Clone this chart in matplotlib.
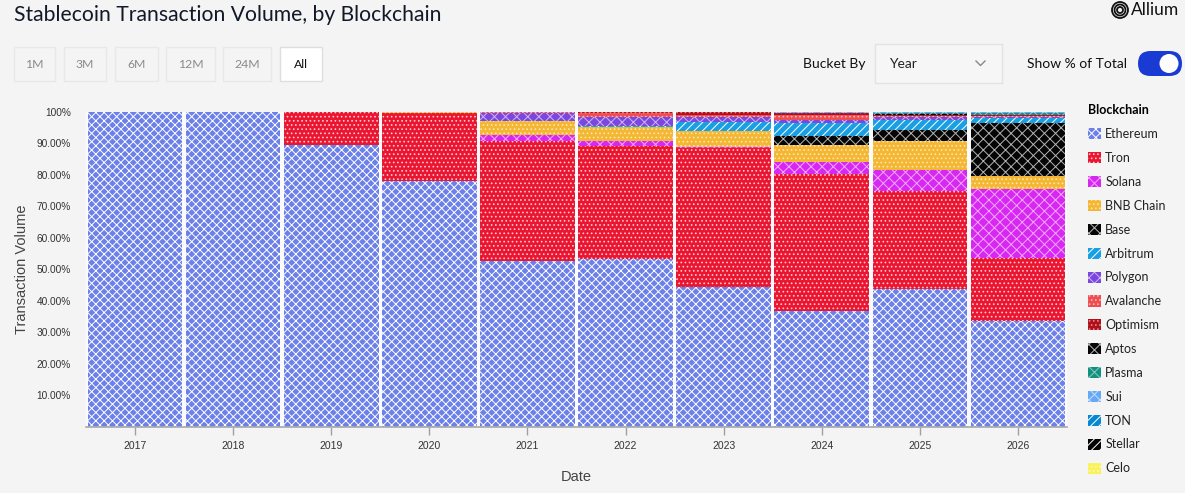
import numpy as np
import matplotlib.pyplot as plt
from matplotlib.patches import FancyBboxPatch, Circle, Rectangle
from matplotlib.lines import Line2D
from matplotlib.transforms import Affine2D
from matplotlib.ticker import FuncFormatter

#region data
years = ['2017', '2018', '2019', '2020', '2021', '2022', '2023', '2024', '2025', '2026']

ethereum = [100, 100, 89.4, 77.9, 52.5, 53.2, 44.3, 36.8, 43.6, 33.5]
tron = [0, 0, 10.6, 21.7, 38.1, 35.8, 44.0, 43.4, 31.3, 20.0]
solana = [0, 0, 0, 0, 1.9, 1.6, 0.6, 3.7, 6.7, 22.0]
bnb_chain = [0, 0, 0, 0.4, 4.4, 4.6, 4.8, 5.6, 8.9, 4.2]
base = [0, 0, 0, 0, 0, 0, 0.1, 2.6, 3.5, 16.6]
arbitrum = [0, 0, 0, 0, 0, 0.3, 2.9, 4.1, 3.2, 1.6]
polygon = [0, 0, 0, 0, 2.5, 2.9, 1.4, 1.2, 0.9, 0.4]
avalanche = [0, 0, 0, 0, 0.6, 1.0, 0.7, 1.5, 0.5, 0.3]
optimism = [0, 0, 0, 0, 0, 0.6, 1.0, 0.5, 0.3, 0.2]
aptos = [0, 0, 0, 0, 0, 0, 0, 0.1, 0.2, 0.1]
plasma = [0, 0, 0, 0, 0, 0, 0, 0, 0.5, 0.7]
sui = [0, 0, 0, 0, 0, 0, 0, 0.2, 0.1, 0.1]
ton = [0, 0, 0, 0, 0, 0, 0, 0.1, 0.1, 0.1]
stellar = [0, 0, 0, 0, 0, 0, 0.1, 0.1, 0.1, 0.1]
celo = [0, 0, 0, 0, 0, 0, 0.1, 0.1, 0.1, 0.1]

chain_names = ['Ethereum', 'Tron', 'Solana', 'BNB Chain', 'Base', 'Arbitrum', 'Polygon',
               'Avalanche', 'Optimism', 'Aptos', 'Plasma', 'Sui', 'TON', 'Stellar', 'Celo']
chain_values = [ethereum, tron, solana, bnb_chain, base, arbitrum, polygon,
                avalanche, optimism, aptos, plasma, sui, ton, stellar, celo]
#endregion

# fill colour, hatch, hatch colour
styles = [('#6b80e8', 'xxxx', '#ffffff'),
          ('#ea1530', '....', '#ffc8ce'),
          ('#d728f2', 'xxx', '#f3a8fb'),
          ('#f4b733', '....', '#fde5ad'),
          ('#050505', 'xxx', '#b4b4b4'),
          ('#1a9fe3', '////', '#ffffff'),
          ('#7a48de', 'xxx', '#cbb6f3'),
          ('#ef4d50', '....', '#f9b6b8'),
          ('#b0101c', '....', '#e48890'),
          ('#050505', 'xxx', '#b4b4b4'),
          ('#13907f', 'xxx', '#8cccc4'),
          ('#68a9f5', 'xxx', '#c4defc'),
          ('#0888d0', '////', '#ffffff'),
          ('#050505', '////', '#ffffff'),
          ('#faf25a', '....', '#fffbb4')]

bg = '#f4f4f4'
W, H = 1185, 493
plt.rcParams['hatch.linewidth'] = 0.7

fig = plt.figure(figsize=(W / 100, H / 100), dpi=100, facecolor=bg)
pix = Affine2D().scale(1 / W, -1 / H).translate(0, 1) + fig.transFigure  # pixel coords from top-left

ax = fig.add_axes([86 / W, 1 - 427 / H, (1067 - 86) / W, (427 - 111.5) / H])
ax.set_facecolor('#fbfbfb')

#region bars
vals = np.array(chain_values, dtype=float)
shares = vals / vals.sum(axis=0) * 100  # % of total
x = np.arange(len(years))
bottom = np.zeros(len(years))
handles = []
for name, share, (col, hatch, hcol) in zip(chain_names, shares, styles):
    b = ax.bar(x, share, bottom=bottom, width=0.965, color=col, hatch=hatch,
               edgecolor=hcol, linewidth=0, label=name)
    handles.append(b)
    bottom += share
#endregion

#region axes
axfont = 'Liberation Sans'
ax.set_xlim(-0.5, len(years) - 0.5)
ax.set_ylim(0, 100)
ax.set_xticks(x)
ax.set_xticklabels(years, family=axfont)
ax.set_yticks(np.arange(10, 101, 10))
ax.yaxis.set_major_formatter(FuncFormatter(lambda v, p: '100%' if v >= 100 else f'{v:.2f}%'))
for t in ax.get_yticklabels():
    t.set_fontfamily(axfont)
ax.tick_params(axis='y', length=0, pad=11, labelsize=7.3, labelcolor='#333333')
ax.tick_params(axis='x', length=6, width=1, color='#a0a0a0', pad=4, labelsize=7.5, labelcolor='#333333')
for s in ['top', 'right', 'left']:
    ax.spines[s].set_visible(False)
ax.spines['bottom'].set_color('#a8a8a8')
ax.spines['bottom'].set_linewidth(1.2)
ax.set_ylabel('Transaction Volume', fontsize=10.5, color='#444444', family=axfont)
ax.yaxis.set_label_coords(-0.058, 0.5)
ax.set_xlabel('Date', fontsize=10.5, color='#444444', labelpad=14, family=axfont)

leg = fig.legend(handles, chain_names, loc='upper left', bbox_to_anchor=(1077 / W, 1 - 93 / H),
                 frameon=False, title='Blockchain', alignment='left',
                 handlelength=1.0, handleheight=1.0, handletextpad=0.35, labelspacing=0.95,
                 prop={'family': 'Lato', 'size': 9})
leg.get_title().set_fontfamily('Lato')
leg.get_title().set_fontweight('bold')
leg.get_title().set_fontsize(9)
for t in leg.get_texts():
    t.set_color('#222222')
#endregion

#region header widgets
fig.text(14, 15, 'Stablecoin Transaction Volume, by Blockchain', transform=pix, fontsize=15.2,
         family='Lato', color='#111827', va='center', ha='left')

buttons = [('1M', 14, 55), ('3M', 64, 106), ('6M', 115, 158), ('12M', 166, 215),
           ('24M', 223, 271), ('All', 280, 322)]
for lab, x0, x1 in buttons:
    active = lab == 'All'
    fig.add_artist(Rectangle((x0, 47), x1 - x0, 34, transform=pix,
                             facecolor='white' if active else bg,
                             edgecolor='#dedede' if active else '#e8e8e8', linewidth=1))
    fig.text((x0 + x1) / 2, 64, lab, transform=pix, fontsize=8.8, family='Lato',
             color='#111111' if active else '#8a8a8a', ha='center', va='center')

fig.text(803, 64, 'Bucket By', transform=pix, fontsize=10, family='Lato', color='#111111',
         va='center', ha='left')
fig.add_artist(Rectangle((875, 44), 127, 39, transform=pix, facecolor='#f6f6f6',
                         edgecolor='#e2e2e2', linewidth=1))
fig.text(889, 64, 'Year', transform=pix, fontsize=10, family='Lato', color='#222222',
         va='center', ha='left')
fig.add_artist(Line2D([976, 980.5, 985], [61, 65.5, 61], transform=pix, color='#888888', linewidth=1))
fig.text(1027, 64, 'Show % of Total', transform=pix, fontsize=10, family='Lato', color='#111111',
         va='center', ha='left')
fig.add_artist(FancyBboxPatch((1138, 51), 44, 25, boxstyle='round,pad=0,rounding_size=12.5',
                              transform=pix, facecolor='#1a3bd3', edgecolor='none'))
fig.add_artist(Circle((1169, 63.5), 9.5, transform=pix, facecolor='white', edgecolor='none'))

for r in [8, 5.5, 3]:
    fig.add_artist(Circle((1120, 10), r, transform=pix, facecolor='none',
                          edgecolor='#111111', linewidth=1.3))
fig.text(1131, 10, 'Allium', transform=pix, fontsize=12.5, family='Lato', color='#111111',
         va='center', ha='left')
#endregion

fig.savefig('out.png', dpi=100, facecolor=bg)
